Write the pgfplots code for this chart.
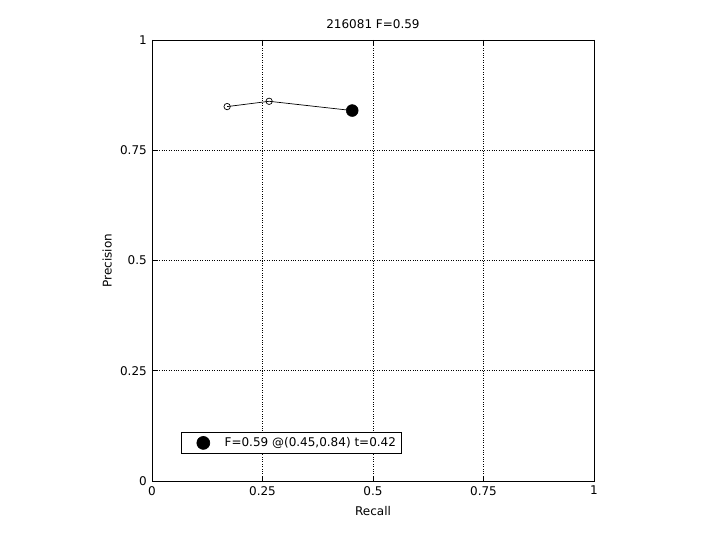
\documentclass[border=0pt]{standalone}
\usepackage{pgfplots}
\pgfplotsset{compat=1.18}
\usepackage{fontspec}
\setmainfont{DejaVu Sans}
\newcommand{\mfont}{\fontsize{12bp}{14bp}\selectfont}
\begin{document}
\mfont
\begin{tikzpicture}
\path[use as bounding box] (-152bp,-59bp) rectangle (568bp,481bp);
\begin{axis}[
    at={(0,0)}, anchor=south west,
    width=442bp, height=441bp,
    scale only axis,
    xmin=0, xmax=1, ymin=0, ymax=1,
    xtick={0,0.25,0.5,0.75,1},
    ytick={0,0.25,0.5,0.75,1},
    xticklabels={0,0.25,0.5,0.75,1},
    yticklabels={0,0.25,0.5,0.75,1},
    tick align=inside,
    tick pos=both,
    major tick length=5bp,
    tick style={black, line width=0.5pt},
    grid=major,
    grid style={black, dotted, line width=0.6pt},
    axis line style={black, line width=0.6pt},
    ticklabel style={font=\mfont},
    xticklabel style={yshift=-1bp},
    yticklabel style={xshift=-1bp},
    title={216081 F=0.59},
    title style={font=\mfont, yshift=1bp},
    xlabel={Recall},
    ylabel={Precision},
    label style={font=\mfont},
    xlabel style={yshift=-3bp},
    ylabel style={yshift=0bp},
    legend style={at={(0.065,0.062)}, anchor=south west, draw=black,
        line width=0.6pt, font=\mfont,
        inner xsep=3bp, inner ysep=3bp, row sep=0pt},
    legend image code/.code={
        \path (0bp,0bp) (38bp,0bp);
        \draw[#1, mark size=6.5bp] plot[only marks] coordinates {(19bp,0bp)};
    },
    legend cell align=left,
]
\addplot[black, line width=0.7pt, mark=o, mark size=3.2bp, mark options={solid, line width=0.7pt}, forget plot]
coordinates {
    (0.170, 0.849)
    (0.265, 0.861)
    (0.453, 0.840)
};
\addplot[only marks, mark=*, mark size=6bp, black]
coordinates {
    (0.453, 0.840)
};
\addlegendentry{F=0.59 @(0.45,0.84) t=0.42}
\end{axis}
\end{tikzpicture}
\end{document}
